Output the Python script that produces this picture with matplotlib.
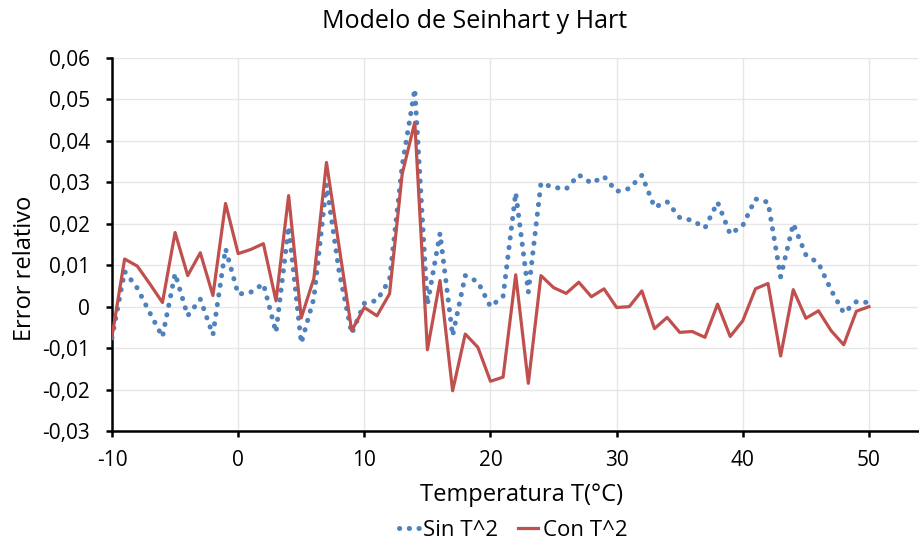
import matplotlib
matplotlib.use("Agg")
import matplotlib.pyplot as plt
from matplotlib.lines import Line2D
from matplotlib.ticker import FuncFormatter, MultipleLocator

plt.rcParams['font.family'] = ['Open Sans', 'DejaVu Sans']

temperatura = list(range(-10, 51))

sin_t2 = [
    -0.0075, 0.0085, 0.0045, -0.0015, -0.0073, 0.0080, -0.0022, 0.0018, -0.0068, 0.0140,
    0.0030, 0.0035, 0.0055, -0.0062, 0.0193, -0.0088, 0.0020, 0.0295, 0.0085, -0.0065,
    0.0008, 0.0015, 0.0065, 0.0340, 0.0525, 0.0005, 0.0177, -0.0070, 0.0075, 0.0060,
    0.0000, 0.0025, 0.0275, 0.0035, 0.0298, 0.0288, 0.0284, 0.0318, 0.0298, 0.0314,
    0.0278, 0.0285, 0.0317, 0.0240, 0.0253, 0.0215, 0.0208, 0.0190, 0.0252, 0.0175,
    0.0196, 0.0260, 0.0252, 0.0072, 0.0200, 0.0125, 0.0105, 0.0040, -0.0015, 0.0012,
    0.0010,
]

con_t2 = [
    -0.0072, 0.0115, 0.0098, 0.0055, 0.0010, 0.0179, 0.0075, 0.0130, 0.0027, 0.0249,
    0.0128, 0.0138, 0.0152, 0.0014, 0.0268, -0.0027, 0.0068, 0.0348, 0.0145, -0.0058,
    -0.0002, -0.0022, 0.0031, 0.0320, 0.0445, -0.0104, 0.0063, -0.0203, -0.0066, -0.0098,
    -0.0180, -0.0170, 0.0077, -0.0185, 0.0075, 0.0046, 0.0032, 0.0059, 0.0024, 0.0043,
    -0.0002, 0.0000, 0.0038, -0.0053, -0.0026, -0.0062, -0.0060, -0.0074, 0.0006, -0.0072,
    -0.0034, 0.0043, 0.0056, -0.0119, 0.0041, -0.0028, -0.0010, -0.0058, -0.0092, -0.0011,
    0.0000,
]

series_names = ["Sin T^2", "Con T^2"]
title = "Modelo de Seinhart y Hart"
xlabel = "Temperatura T(°C)"
ylabel = "Error relativo"

blue = "#4F81BD"
red = "#C0504D"
dot_style = (0, (0.05, 1.9))

fig = plt.figure(figsize=(9.2, 5.5), dpi=100)
ax = fig.add_axes([112/920, 1-431/550, 1-112/920-0.002, (431-58)/550])

ax.plot(temperatura, sin_t2, color=blue, lw=3.6, linestyle=dot_style,
        dash_capstyle='round', zorder=3)
ax.plot(temperatura, con_t2, color=red, lw=2.3, zorder=4)

ax.set_xlim(-10, 53.9)
ax.set_ylim(-0.03, 0.06)
ax.xaxis.set_major_locator(MultipleLocator(10))
ax.yaxis.set_major_locator(MultipleLocator(0.01))

def yfmt(v, pos):
    if abs(v) < 1e-9:
        return "0"
    return f"{v:.2f}".replace(".", ",")
ax.yaxis.set_major_formatter(FuncFormatter(yfmt))
ax.xaxis.set_major_formatter(FuncFormatter(lambda v, p: f"{int(round(v))}"))

ax.grid(True, color="#E6E6E6", lw=1.0, zorder=0)
ax.set_axisbelow(True)
for s in ["top", "right"]:
    ax.spines[s].set_visible(False)
for s in ["left", "bottom"]:
    ax.spines[s].set_linewidth(1.8)
    ax.spines[s].set_color("black")
ax.tick_params(axis='both', direction='out', length=4, width=1.8, labelsize=15,
               colors='black')
ax.tick_params(axis='y', pad=12)
ax.tick_params(axis='x', pad=10)

fig.text(475/920, 1-22/550, title, ha='center', va='center', fontsize=18)
fig.text(522/920, 1-495/550, xlabel, ha='center', va='center', fontsize=17)
fig.text(25/920, 1-268/550, ylabel, ha='center', va='center', fontsize=17, rotation=90)

handles = [
    Line2D([], [], color=blue, lw=3.6, linestyle=dot_style, dash_capstyle='round'),
    Line2D([], [], color=red, lw=2.3),
]
fig.legend(handles, series_names, loc='center', bbox_to_anchor=(513/920, 1-530/550),
           ncol=2, frameon=False, fontsize=16, handlelength=0.9, handletextpad=0.2,
           columnspacing=0.9)

fig.savefig("out.png", dpi=100)
